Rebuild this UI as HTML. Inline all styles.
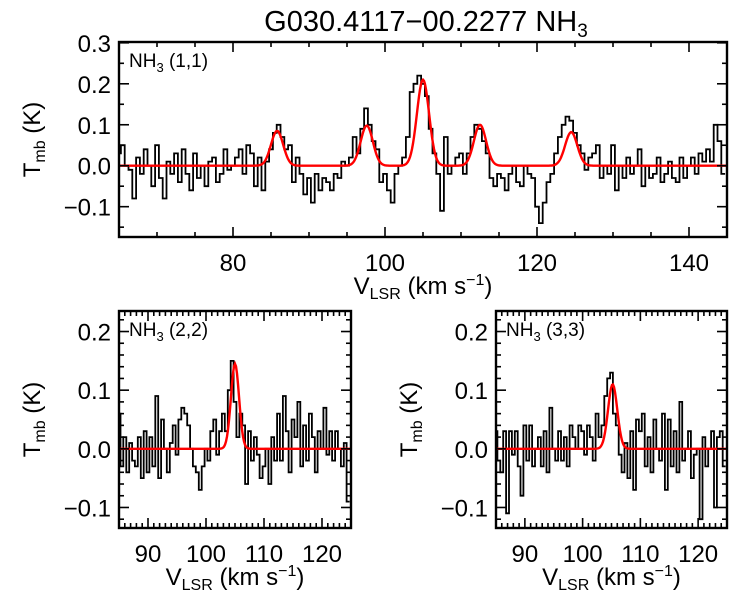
<!DOCTYPE html>
<html><head><meta charset="utf-8"><style>
body{margin:0;background:#fff}
svg{display:block;font-family:"Liberation Sans",Arial,sans-serif}
</style></head><body>
<svg id="chart" width="750" height="600" viewBox="0 0 750 600" xmlns="http://www.w3.org/2000/svg">
<rect width="750" height="600" fill="#fff"/>
<text x="426" y="31" font-size="29" text-anchor="middle">G030.4117−00.2277 NH<tspan font-size="19" dy="6">3</tspan></text>
</svg>
<script>
// Panel (1,1)
const v11Start = 65, v11Step = 0.5;
const t11 = [0.03,0.05,0.0,-0.01,-0.08,0.02,-0.02,0.04,0.0,-0.05,
0.05,-0.03,-0.08,0.01,-0.02,0.03,-0.04,0.04,-0.02,-0.06,
0.03,-0.03,0.0,-0.05,0.01,0.02,-0.04,-0.02,0.04,-0.01,
0.0,0.02,0.04,-0.02,0.05,0.03,-0.05,0.02,-0.06,0.01,
0.04,0.08,0.10,0.07,0.04,0.05,-0.04,0.02,-0.02,-0.07,
-0.03,-0.09,-0.02,-0.06,-0.03,-0.04,-0.06,-0.02,-0.03,0.01,
0.0,0.02,0.07,0.03,0.09,0.14,0.10,0.06,0.04,-0.04,
-0.02,-0.06,-0.09,-0.02,0.0,0.02,0.07,0.18,0.20,0.22,
0.20,0.17,0.09,0.03,-0.02,-0.11,0.07,-0.02,0.0,0.02,
0.03,-0.02,0.03,0.07,0.10,0.09,0.06,0.03,-0.03,-0.05,
-0.02,-0.03,-0.06,-0.02,0.0,-0.04,-0.05,0.0,-0.02,-0.03,
-0.10,-0.14,-0.09,-0.04,-0.02,0.03,0.07,0.10,0.12,0.11,
0.08,0.05,0.03,-0.01,0.02,0.03,0.05,-0.03,0.0,-0.02,
0.05,-0.06,0.0,-0.03,0.02,-0.02,0.0,0.04,-0.05,0.0,
-0.03,-0.02,0.02,-0.04,-0.02,0.01,-0.03,-0.04,0.02,-0.03,
0.0,0.02,-0.02,0.03,0.01,0.04,0.01,0.10,0.06,-0.02];
const fit11Centers = [85.8, 97.6, 105.0, 112.5, 124.5];
const fit11Amps = [0.085, 0.098, 0.21, 0.10, 0.082];
const fit11Sigma = [0.8, 0.8, 0.8, 0.8, 0.8];

// Panel (2,2)
const v22Start = 85, v22Step = 0.5;
const t22 = [0.06,-0.03,0.02,-0.04,0.01,-0.02,-0.03,0.02,-0.05,0.03,
-0.04,0.02,-0.03,0.09,-0.05,0.05,0.0,-0.04,0.01,0.04,
-0.01,0.05,0.07,0.06,0.04,0.0,-0.03,-0.04,-0.07,-0.03,
0.0,-0.02,0.03,0.05,-0.01,0.03,0.06,0.03,0.10,0.15,
0.08,0.02,0.06,0.04,-0.06,0.03,-0.02,0.02,-0.01,-0.05,
-0.03,0.0,-0.06,0.02,-0.02,0.06,-0.02,0.09,0.03,-0.04,
0.05,0.02,0.08,-0.03,0.04,-0.02,0.06,0.02,-0.04,0.03,
0.0,0.07,-0.01,0.03,-0.02,0.03,0.0,-0.03,0.01,-0.09];
const fit22Centers = [105.0];
const fit22Amps = [0.145];
const fit22Sigma = [0.7];

// Panel (3,3)
const v33Start = 85, v33Step = 0.5;
const t33 = [0.03,-0.02,-0.04,0.03,-0.11,0.03,-0.01,0.03,-0.03,-0.08,
0.04,-0.02,0.04,-0.03,0.0,0.02,-0.03,0.03,-0.04,0.07,
0.0,-0.02,0.03,-0.02,0.02,-0.03,0.04,0.02,0.0,0.04,
0.03,-0.01,0.04,0.02,-0.02,0.06,0.02,0.04,0.09,0.12,
0.13,0.06,0.04,-0.01,-0.04,0.01,-0.05,0.03,-0.07,0.05,
0.03,0.06,-0.03,0.02,-0.04,0.05,0.0,-0.02,0.06,-0.07,
0.05,-0.03,0.03,-0.04,0.08,-0.02,0.0,0.03,-0.05,-0.01,
0.0,-0.12,0.02,-0.03,0.0,0.03,-0.10,0.02,0.03,-0.03];
const fit33Centers = [105.2];
const fit33Amps = [0.11];
const fit33Sigma = [0.8];

const xTicksTop = [80,100,120,140];
const yTicksTop = [-0.1,0.0,0.1,0.2,0.3];
const xTicksBot = [90,100,110,120];
const yTicksBot = [-0.1,0.0,0.1,0.2];

const NS="http://www.w3.org/2000/svg";
const svg=document.getElementById('chart');
function mk(tag,attrs,parent){const e=document.createElementNS(NS,tag);for(const k in attrs)e.setAttribute(k,attrs[k]);(parent||svg).appendChild(e);return e;}

function panel(o){
  const g=mk('g',{});
  
  
  const X=v=>o.x0+(v-o.xmin)/(o.xmax-o.xmin)*(o.x1-o.x0);
  const Y=t=>o.y1-(t-o.ymin)/(o.ymax-o.ymin)*(o.y1-o.y0);
  let d='';
  o.data.forEach((t,i)=>{
    const va=o.vStart+(i-0.5)*o.vStep, vb=o.vStart+(i+0.5)*o.vStep;
    const xa=Math.max(o.x0,X(va)), xb=Math.min(o.x1,X(vb));
    if(xb<=xa) return;
    d+=(d?'L':'M')+xa.toFixed(1)+','+Y(t).toFixed(1)+'L'+xb.toFixed(1)+','+Y(t).toFixed(1);
  });
  const sp=mk('path',{d:d,fill:'none',stroke:'#000','stroke-width':1.8},g);
  
  
  let fd='';
  for(let px=o.x0;px<=o.x1;px+=1){
    const v=o.xmin+(px-o.x0)/(o.x1-o.x0)*(o.xmax-o.xmin);
    let s=0;o.centers.forEach((c,k)=>{s+=o.amps[k]*Math.exp(-0.5*Math.pow((v-c)/o.sig[k],2));});
    fd+=(fd?'L':'M')+px+','+Y(s).toFixed(1);
  }
  const fl=mk('path',{d:fd,fill:'none',stroke:'#f00','stroke-width':2.4},g);
  
  
  const fr=mk('rect',{x:o.x0,y:o.y0,width:o.x1-o.x0,height:o.y1-o.y0,fill:'none',stroke:'#000','stroke-width':2.4},g);
  
  
  for(let v=Math.ceil(o.xmin/o.xminor)*o.xminor;v<=o.xmax;v+=o.xminor){
    const x=X(v),maj=o.xticks.some(t=>Math.abs(t-v)<1e-6),L=maj?10:5;
    mk('line',{x1:x,x2:x,y1:o.y1,y2:o.y1-L,stroke:'#000','stroke-width':1.6},g);
    mk('line',{x1:x,x2:x,y1:o.y0,y2:o.y0+L,stroke:'#000','stroke-width':1.6},g);
  }
  for(let k=Math.ceil(o.ymin/o.yminor-1e-6);k*o.yminor<=o.ymax+1e-9;k++){
    const t=k*o.yminor,y=Y(t),maj=o.yticks.some(a=>Math.abs(a-t)<1e-6),L=maj?10:5;
    mk('line',{x1:o.x0,x2:o.x0+L,y1:y,y2:y,stroke:'#000','stroke-width':1.6},g);
    mk('line',{x1:o.x1,x2:o.x1-L,y1:y,y2:y,stroke:'#000','stroke-width':1.6},g);
  }
  o.xticks.forEach(v=>{
    const t=mk('text',{x:X(v),y:o.y1+34,'font-size':24,'text-anchor':'middle'},g);
    
    
    t.textContent=v;
  });
  o.yticks.forEach(v=>{
    const t=mk('text',{x:o.x0-8,y:Y(v)+9,'font-size':24,'text-anchor':'end'},g);
    
    
    t.textContent=(v<0?'−':'')+Math.abs(v).toFixed(1);
  });
  const xt=mk('text',{x:(o.x0+o.x1)/2,y:o.y1+o.xtOff,'font-size':24,'text-anchor':'middle'},g);
  
  
  xt.innerHTML='V<tspan font-size="16" dy="5">LSR</tspan><tspan dy="-5"> (km s</tspan><tspan font-size="16" dy="-9">−1</tspan><tspan dy="9">)</tspan>';
  const cy=(o.y0+o.y1)/2;
  const yt=mk('text',{x:0,y:0,'font-size':24,'text-anchor':'middle',transform:`translate(${o.x0-79},${cy}) rotate(-90)`},g);
  
  
  yt.innerHTML='T<tspan font-size="16" dy="5">mb</tspan><tspan dy="-5"> (K)</tspan>';
  const lb=mk('text',{x:o.x0+10,y:o.y0+25,'font-size':19},g);
  
  
  lb.innerHTML='NH<tspan font-size="13" dy="5">3</tspan><tspan dy="-5"> '+o.label+'</tspan>';
}

panel({name:'panel-nh3-11',x0:119,x1:727,y0:42,y1:237,xmin:65,xmax:145,ymin:-0.174,ymax:0.302,
  xminor:5,yminor:0.05,xticks:xTicksTop,yticks:yTicksTop,data:t11,vStart:v11Start,vStep:v11Step,
  centers:fit11Centers,amps:fit11Amps,sig:fit11Sigma,label:'(1,1)',xtOff:57});
panel({name:'panel-nh3-22',x0:119,x1:351,y0:311,y1:528,xmin:85,xmax:125,ymin:-0.135,ymax:0.235,
  xminor:1,yminor:0.02,xticks:xTicksBot,yticks:yTicksBot,data:t22,vStart:v22Start,vStep:v22Step,
  centers:fit22Centers,amps:fit22Amps,sig:fit22Sigma,label:'(2,2)',xtOff:57});
panel({name:'panel-nh3-33',x0:496,x1:727,y0:311,y1:528,xmin:85,xmax:125,ymin:-0.135,ymax:0.235,
  xminor:1,yminor:0.02,xticks:xTicksBot,yticks:yTicksBot,data:t33,vStart:v33Start,vStep:v33Step,
  centers:fit33Centers,amps:fit33Amps,sig:fit33Sigma,label:'(3,3)',xtOff:57});
</script>
</body></html>
